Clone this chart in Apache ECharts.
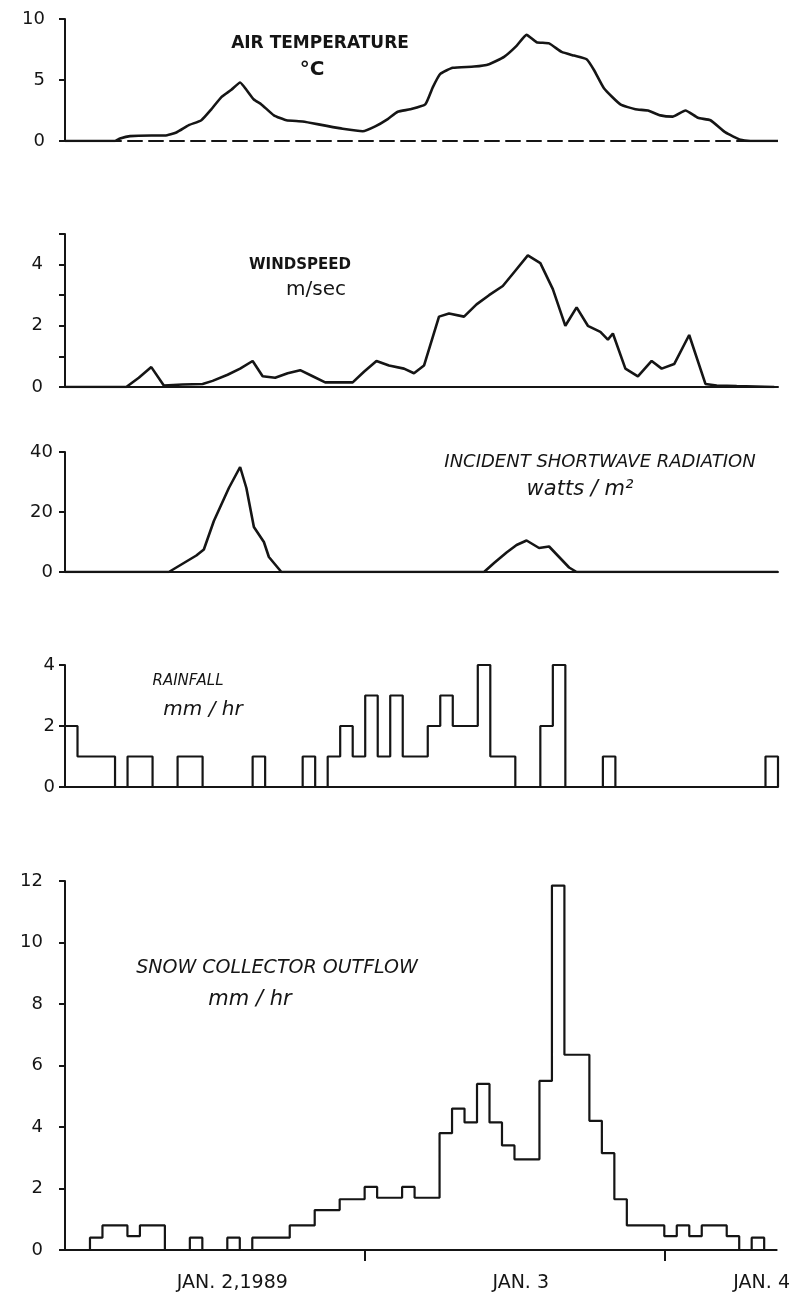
<!DOCTYPE html>
<html>
<head>
<meta charset="utf-8">
<script src="https://cdn.jsdelivr.net/npm/echarts@6/dist/echarts.min.js"></script>
<style>
html,body{margin:0;padding:0;background:#fff;}
#chart{width:793px;height:1296px;}
</style>
</head>
<body>
<div id="chart"></div>
<script>
// ---- time axis (hours since Jan 2, 1989 00:00) ----
const hourMax = 57;
const dayTickHours = [24, 48];
const dayLabelHours = [13.4, 36.5, 55.8];
const dayLabels = ["JAN. 2,1989", "JAN. 3", "JAN. 4"];

// ---- air temperature (°C) ----
const tempHours = [0,4,4.4,5.2,6.9,8,8.9,9.9,10.9,11.7,12.5,13.3,14,14.5,15.1,15.7,16.7,17.7,19,20.6,22.2,23.8,24.8,25.8,26.6,27.6,28.8,29.4,30,31,32.7,33.9,35.1,36.1,36.9,37.7,38.7,39.7,40.7,41.7,42.3,43.1,44.4,45.6,46.6,47.6,48.6,49.6,50.6,51.6,52.8,54,54.8,57];
const tempValues = [0,0,0.2,0.4,0.45,0.45,0.7,1.3,1.7,2.6,3.6,4.2,4.8,4.2,3.4,3.0,2.1,1.7,1.6,1.3,1.0,0.8,1.2,1.8,2.4,2.6,3.0,4.4,5.5,6.0,6.1,6.3,6.9,7.8,8.7,8.1,8.0,7.3,7.0,6.7,5.8,4.3,3.0,2.6,2.5,2.1,2.0,2.5,1.9,1.7,0.7,0.1,0,0];

// ---- windspeed (m/sec) ----
const windHours = [0,4.9,5.9,6.9,7.9,9.4,11,11.8,13,14,15,15.8,16.8,17.8,18.8,19.8,20.8,23,23.9,24.9,25.9,27.1,27.9,28.7,29.9,30.7,31.9,32.9,33.9,35,36,37,38,39,40,40.9,41.8,42.8,43.4,43.8,44.8,45.8,46.9,47.7,48.7,49.9,51.2,52.1,53.7,56.7];
const windValues = [0,0,0.3,0.65,0.05,0.08,0.1,0.2,0.4,0.6,0.85,0.35,0.3,0.45,0.55,0.35,0.15,0.15,0.5,0.85,0.7,0.6,0.45,0.7,2.3,2.4,2.3,2.7,3.0,3.3,3.8,4.3,4.05,3.2,2.0,2.6,2.0,1.8,1.55,1.75,0.6,0.35,0.85,0.6,0.75,1.7,0.1,0.05,0.03,0];

// ---- incident shortwave radiation (watts/m2) ----
const radHours = [0,8.3,9.5,10.5,11.1,11.9,13.1,14,14.5,15.1,15.9,16.3,17.3,33.5,34.3,35.3,36.1,36.9,37.9,38.7,39.5,40.3,40.9,57];
const radValues = [0,0,3,5.5,7.5,17,28,35,28,15,10,5,0,0,3,6.5,9,10.5,8,8.5,5,1.5,0,0];

// ---- hourly rainfall (mm/hr), hours 0..56 ----
const rainfall = [2,1,1,1,0,1,1,0,0,1, 1,0,0,0,0,1,0,0,0,1, 0,1,2,1,3,1,3,1,1,2, 3,2,2,4,1,1,0,0,2,4, 0,0,0,1,0,0,0,0,0,0, 0,0,0,0,0,0,1];

// ---- hourly snow collector outflow (mm/hr), hours 0..56 ----
const outflow = [0,0,0.4,0.8,0.8,0.45,0.8,0.8,0,0, 0.4,0,0,0.4,0,0.4,0.4,0.4,0.8,0.8, 1.3,1.3,1.65,1.65,2.05,1.7,1.7,2.05,1.7,1.7, 3.8,4.6,4.15,5.4,4.15,3.4,2.95,2.95,5.5,11.85, 6.35,6.35,4.2,3.15,1.65,0.8,0.8,0.8,0.45,0.8, 0.45,0.8,0.8,0.45,0,0.4,0];

// ---- y-axis settings per panel ----
const yMax = [10, 5, 40, 4, 12];
const yInterval = [5, 1, 20, 2, 2];

const INK = '#151515';
const FONT = "'DejaVu Sans', sans-serif";

function pairs(xs, ys){ return xs.map((x,i)=>[x, ys[i]]); }
function stepData(vals){
  const d = vals.map((v,i)=>[i, v]);
  d.push([vals.length, vals[vals.length-1]]);
  d.push([vals.length, 0]);
  return d;
}

const gridTops = [19, 234, 452, 665, 881];
const gridHeights = [122, 153, 120, 122, 369];
const labelMargins = [20, 22, 12, 10, 22];

const grids = gridTops.map((t,i)=>({left:65, width:713, top:t, height:gridHeights[i], containLabel:false}));

const xAxes = gridTops.map((t,i)=>{
  const ax = {
    type:'value', gridIndex:i, min:0, max:hourMax,
    splitLine:{show:false},
    axisLine:{show:true, onZero:false, lineStyle:{color:INK, width:2, type: i===0 ? [14,7] : 'solid'}},
    axisTick:{show:false},
    axisLabel:{show:false}
  };
  if(i===4){
    ax.axisTick = {show:true, length:11, lineStyle:{color:INK, width:2}, customValues: dayTickHours};
    ax.axisLabel = {show:true, customValues: dayLabelHours, margin:24, color:INK,
      fontFamily:"'DejaVu Sans', sans-serif", fontSize:19,
      formatter:function(v){ const k = dayLabelHours.findIndex(h=>Math.abs(h-v)<0.01); return k>=0 ? dayLabels[k] : ''; }};
  }
  return ax;
});

const yAxes = gridTops.map((t,i)=>({
  type:'value', gridIndex:i, min:0, max:yMax[i], interval:yInterval[i],
  splitLine:{show:false},
  axisLine:{show:true, lineStyle:{color:INK, width:2}},
  axisTick:{show:true, length:6, lineStyle:{color:INK, width:2}},
  axisLabel:{show:true, margin:labelMargins[i], color:INK, fontFamily:FONT, fontSize:18,
    formatter: function(v){ return (i===1 && v%2!==0) ? '' : String(v); }}
}));

const lineStyle = {color:INK, width:2.6};
const series = [
  {type:'line', xAxisIndex:0, yAxisIndex:0, data:pairs(tempHours,tempValues), showSymbol:false, symbol:'none', lineStyle:lineStyle, smooth:0.15},
  {type:'line', xAxisIndex:1, yAxisIndex:1, data:pairs(windHours,windValues), showSymbol:false, symbol:'none', lineStyle:lineStyle},
  {type:'line', xAxisIndex:2, yAxisIndex:2, data:pairs(radHours,radValues), showSymbol:false, symbol:'none', lineStyle:lineStyle},
  {type:'line', xAxisIndex:3, yAxisIndex:3, data:stepData(rainfall), step:'end', showSymbol:false, symbol:'none', lineStyle:{color:INK, width:2.2}},
  {type:'line', xAxisIndex:4, yAxisIndex:4, data:stepData(outflow), step:'end', showSymbol:false, symbol:'none', lineStyle:{color:INK, width:2.2}}
];

function txt(text, x, y, font){
  return {type:'text', x:x, y:y, silent:true,
    style:{text:text, font:font, fill:INK, align:'center', verticalAlign:'middle', textAlign:'center', textVerticalAlign:'middle'}};
}

const graphics = [
  txt('AIR TEMPERATURE', 320, 44, "bold 17px " + FONT),
  txt('°C', 312, 70, "bold 20px " + FONT),
  txt('WINDSPEED', 300, 265, "bold 15px " + FONT),
  txt('m/sec', 316, 290, "20px " + FONT),
  txt('INCIDENT SHORTWAVE RADIATION', 600, 462, "italic 18px " + FONT),
  txt('watts / m²', 580, 490, "italic 21px " + FONT),
  txt('RAINFALL', 188, 681, "italic 15px " + FONT),
  txt('mm / hr', 203, 710, "italic 20px " + FONT),
  txt('SNOW COLLECTOR OUTFLOW', 277, 968, "italic 19px " + FONT),
  txt('mm / hr', 250, 1000, "italic 21px " + FONT)
];

const chart = echarts.init(document.getElementById('chart'), null, {renderer:'canvas'});
chart.setOption({
  animation:false,
  backgroundColor:'#ffffff',
  grid:grids, xAxis:xAxes, yAxis:yAxes, series:series,
  graphic:{elements:graphics}
});
</script>
</body>
</html>
